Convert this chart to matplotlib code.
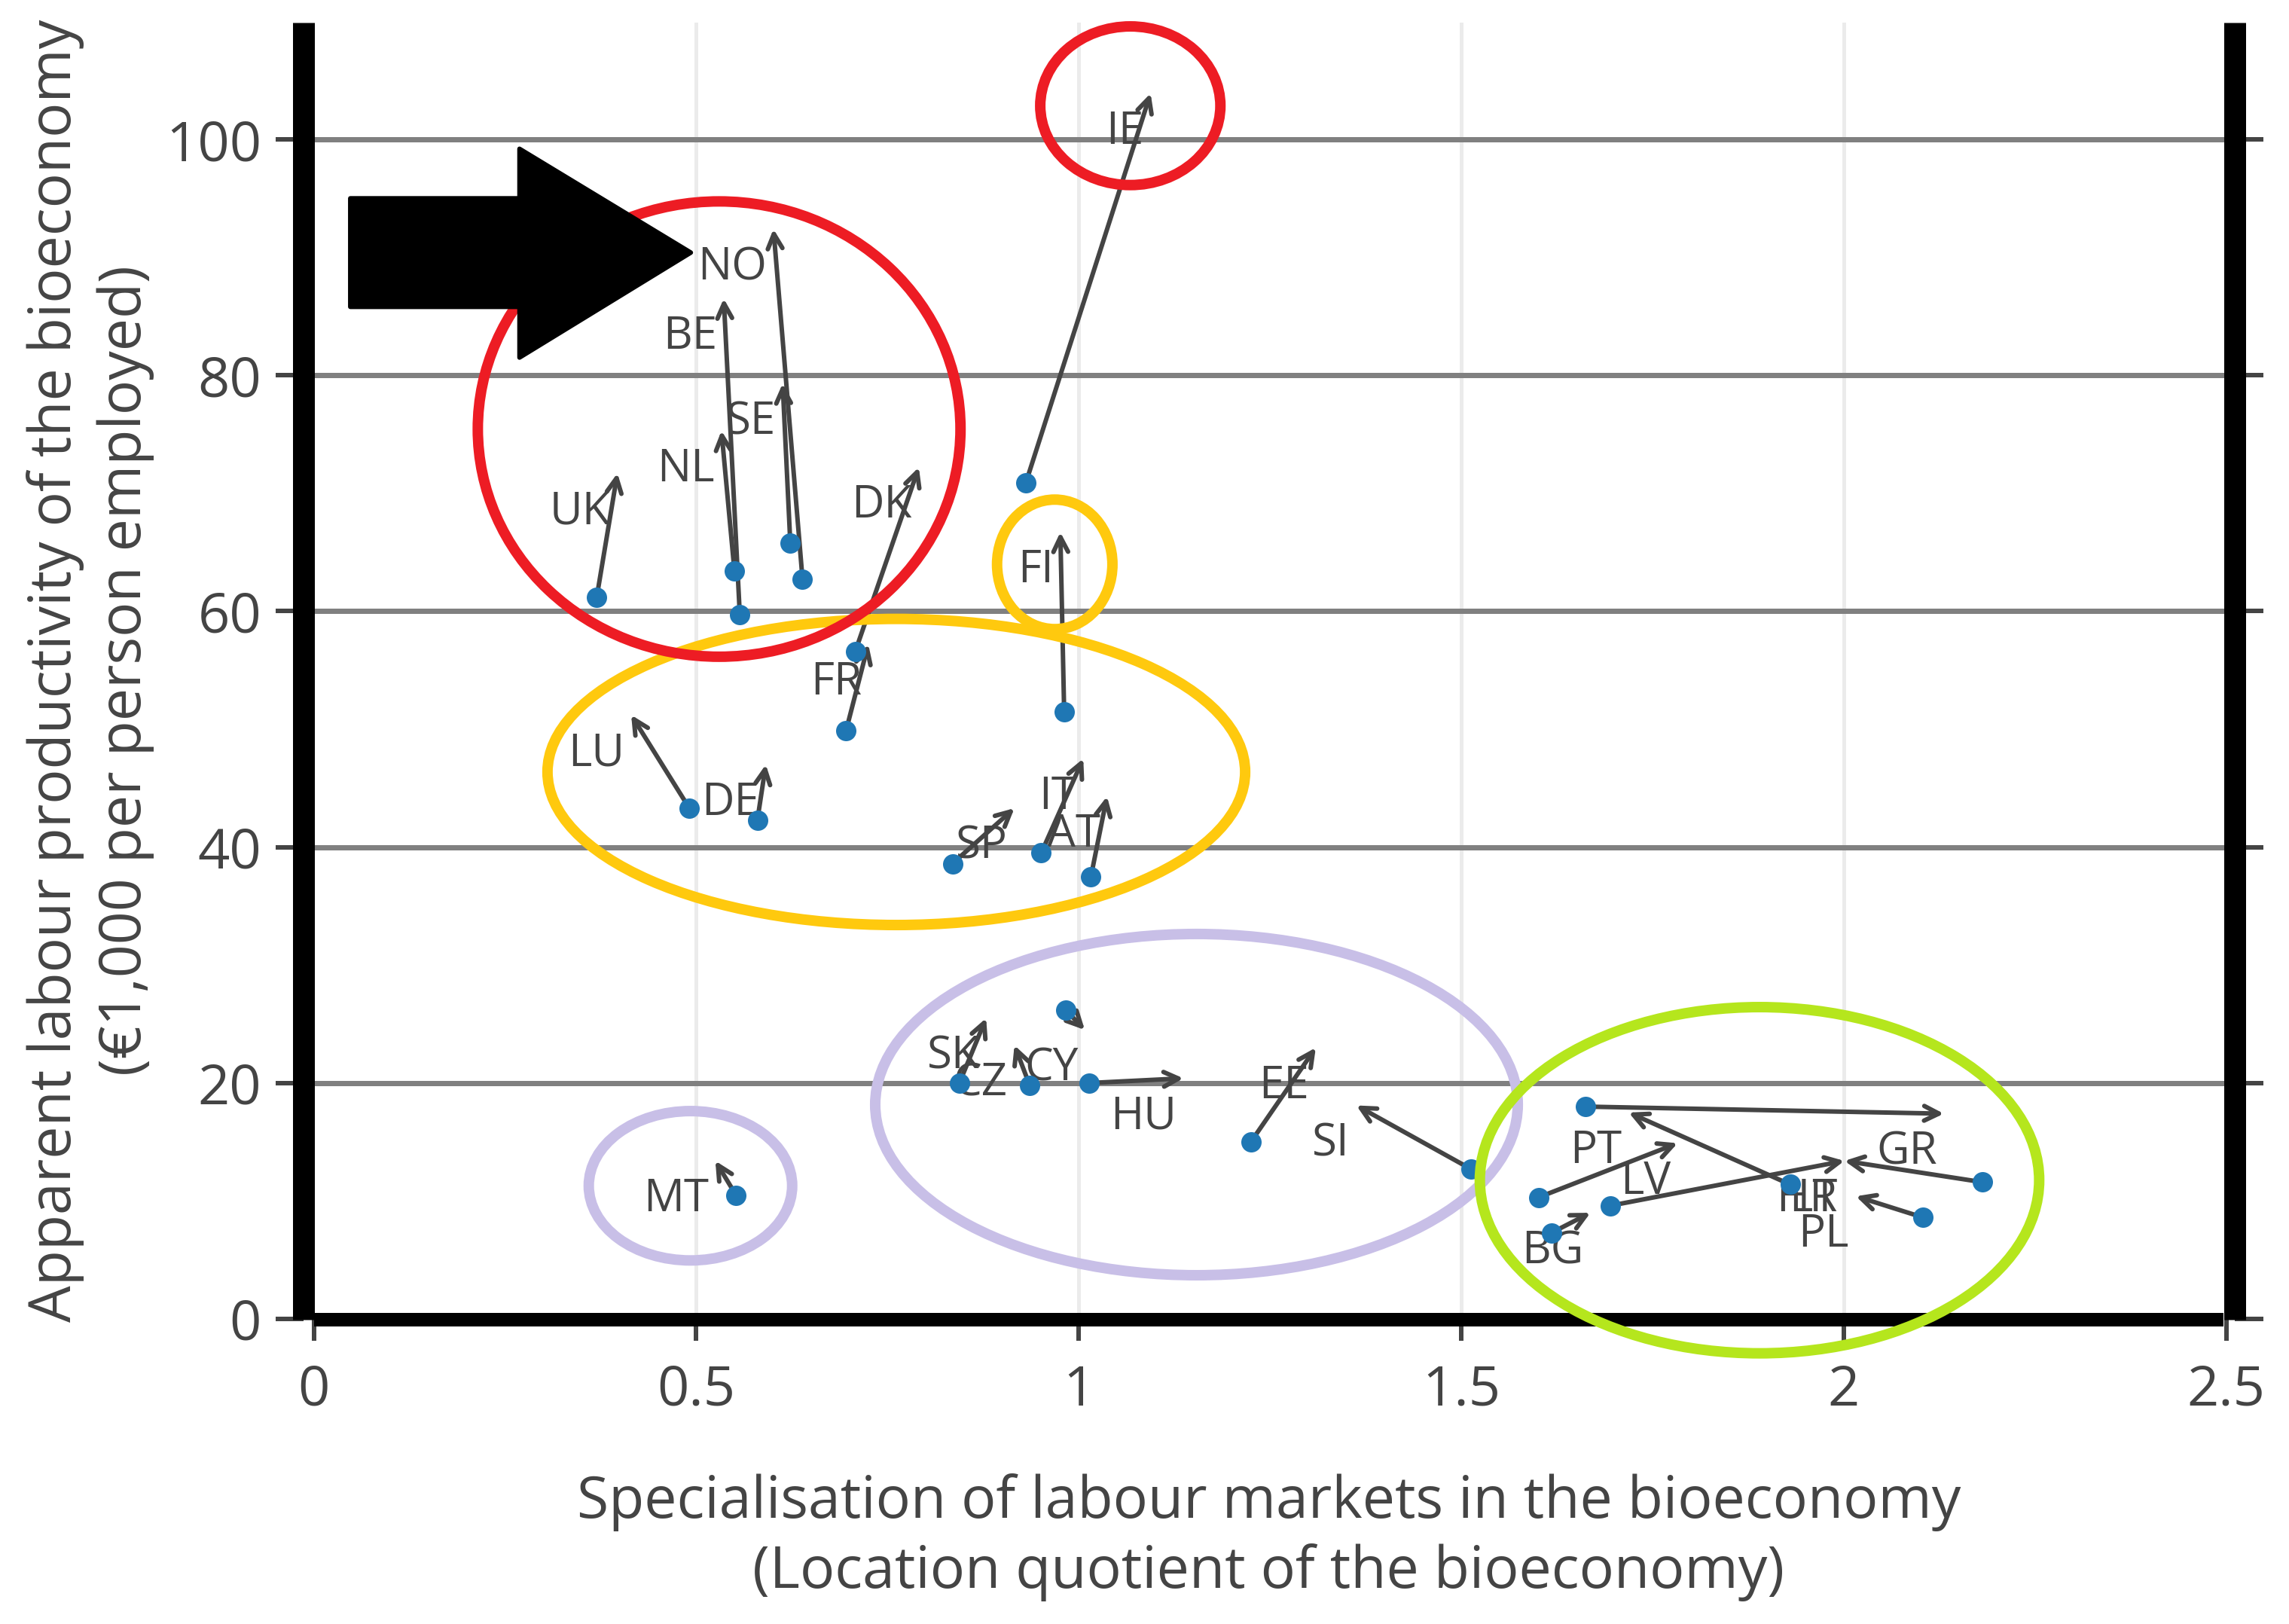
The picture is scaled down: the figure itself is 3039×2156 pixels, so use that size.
import matplotlib
matplotlib.use("Agg")
import matplotlib.pyplot as plt
from matplotlib.patches import Ellipse, Polygon, FancyArrowPatch
from matplotlib.lines import Line2D

plt.rcParams['font.family'] = ['Open Sans', 'DejaVu Sans']

# ---------------- data ----------------
countries = ["UK", "NL", "BE", "SE", "NO", "DK", "FR", "IE", "FI", "LU", "DE", "IT", "AT", "SP",
             "SK", "CZ", "CY", "HU", "EE", "SI", "GR", "PT", "LV", "BG", "LT", "HR", "PL", "MT"]
lq_start = [0.370, 0.550, 0.557, 0.623, 0.639, 0.708, 0.696, 0.931, 0.981, 0.491, 0.580, 0.951, 1.016, 0.835,
            0.844, 0.936, 0.983, 1.014, 1.225, 1.513, 1.663, 1.930, 1.601, 1.618, 1.695, 2.181, 2.104, 0.552]
prod_start = [61.2, 63.4, 59.7, 65.8, 62.7, 56.6, 49.9, 70.9, 51.5, 43.3, 42.3, 39.5, 37.5, 38.6,
              20.0, 19.8, 26.2, 20.0, 15.0, 12.7, 18.0, 11.4, 10.3, 7.3, 9.6, 11.6, 8.6, 10.5]
lq_end = [0.397, 0.533, 0.536, 0.613, 0.601, 0.791, 0.725, 1.094, 0.976, 0.415, 0.591, 1.006, 1.037, 0.916,
          0.879, 0.916, 1.008, 1.137, 1.310, 1.363, 2.131, 1.719, 1.783, 1.669, 2.001, 2.001, 2.016, 0.525]
prod_end = [71.7, 75.3, 86.5, 79.3, 92.4, 72.2, 57.2, 103.9, 66.7, 51.2, 47.0, 47.5, 44.3, 43.3,
            25.5, 23.2, 24.5, 20.4, 23.0, 18.1, 17.4, 17.5, 14.9, 9.0, 13.4, 13.4, 10.4, 13.4]

x_ticks = [0, 0.5, 1, 1.5, 2, 2.5]
x_tick_labels = ["0", "0.5", "1", "1.5", "2", "2.5"]
y_ticks = [0, 20, 40, 60, 80, 100]
y_tick_labels = ["0", "20", "40", "60", "80", "100"]

x_title = ["Specialisation of labour markets in the bioeconomy", "(Location quotient of the bioeconomy)"]
y_title = ["Apparent labour productivity of the bioeconomy", "(\u20ac1,000 per person employed)"]

# highlight ellipses (centre x, centre y, width, height, colour)
ell_cx = [1.154, 0.4925, 1.890, 0.7616, 0.9687, 0.530, 1.0675]
ell_cy = [18.17, 11.29, 11.76, 46.37, 63.97, 75.44, 102.85]
ell_w = [0.840, 0.2659, 0.7312, 0.912, 0.1508, 0.631, 0.2355]
ell_h = [28.93, 12.66, 29.35, 25.95, 10.98, 38.6, 13.45]
ell_col = ["#C8BFE7", "#C8BFE7", "#B5E61D", "#FFC90E", "#FFC90E", "#ED1C24", "#ED1C24"]

# big black block arrow (data coords)
block_x = [0.0478, 0.269, 0.269, 0.493, 0.269, 0.269, 0.0478]
block_y = [95.0, 95.0, 99.2, 90.4, 81.5, 85.8, 85.8]

# ---------------- figure ----------------
W, H, DPI = 3039, 2156, 100
PT = 72.0 / DPI  # points per pixel
fig = plt.figure(figsize=(W / DPI, H / DPI), dpi=DPI)
L, R, T, B = 402.5, 2966.5, 29.5, 1752.0
ax = fig.add_axes([L / W, 1 - B / H, (R - L) / W, (B - T) / H])
ax.set_xlim(-0.0138, 2.5108)
ax.set_ylim(-0.064, 109.93)

for s in ax.spines.values():
    s.set_visible(False)

grey_txt = "#444444"
ax.set_xticks(x_ticks)
ax.set_xticklabels(x_tick_labels)
ax.set_yticks(y_ticks)
ax.set_yticklabels(y_tick_labels)
ax.tick_params(axis='both', labelsize=74 * PT, colors=grey_txt, width=6 * PT)
ax.tick_params(axis='x', length=28 * PT, pad=30 * PT)
ax.tick_params(axis='y', length=37.5 * PT, pad=18 * PT, right=True)

for y in y_ticks[1:]:
    ax.axhline(y, color="#808080", lw=7 * PT, zorder=1)
for x in x_ticks[1:-1]:
    ax.axvline(x, color="#ebebeb", lw=5 * PT, zorder=0.9)

# thick black frame bars
bar_kw = dict(color="black", transform=ax.transAxes, clip_on=False, solid_capstyle="butt", zorder=3)
ax.add_line(Line2D([0, 0], [0, 1], lw=29 * PT, **bar_kw))
ax.add_line(Line2D([1, 1], [0, 1], lw=29 * PT, **bar_kw))
inset = 14.5 / (R - L)
ax.add_line(Line2D([inset, 1 - inset], [0, 0], lw=18 * PT, **bar_kw))

# arrows + points + labels
for c, xs, ys, xe, ye in zip(countries, lq_start, prod_start, lq_end, prod_end):
    arr = FancyArrowPatch((xs, ys), (xe, ye), arrowstyle="->,head_length=14,head_width=7",
                          mutation_scale=1, shrinkA=0, shrinkB=0, color="#444444",
                          lw=6 * PT, zorder=4, clip_on=False)
    ax.add_patch(arr)
    ax.annotate(c, xy=(xe, ye), xytext=(-9 * PT, -67 * PT), textcoords="offset points",
                ha="right", va="baseline", fontsize=60 * PT, color=grey_txt, zorder=5)
ax.plot(lq_start, prod_start, "o", color="#1f77b4", ms=27 * PT, mec="none", zorder=6, clip_on=False)

# highlight ellipses
for cx, cy, w, h, col in zip(ell_cx, ell_cy, ell_w, ell_h, ell_col):
    ax.add_patch(Ellipse((cx, cy), w, h, fill=False, edgecolor=col, lw=14 * PT,
                         zorder=7, clip_on=False))

ax.add_patch(Polygon(list(zip(block_x, block_y)), closed=True, facecolor="black",
                     edgecolor="black", lw=6 * PT, joinstyle="round", zorder=8, clip_on=False))

# axis titles
cx_fig = (L + R) / 2 / W
fig.text(cx_fig, 1 - 2015 / H, x_title[0], ha="center", va="baseline", fontsize=77 * PT, color=grey_txt)
fig.text(cx_fig, 1 - 2108 / H, x_title[1], ha="center", va="baseline", fontsize=77 * PT, color=grey_txt)
cy_fig = 1 - 890 / H
fig.text(94 / W, cy_fig, y_title[0], ha="center", va="baseline", rotation=90,
         rotation_mode="anchor", fontsize=77 * PT, color=grey_txt)
fig.text(187 / W, cy_fig, y_title[1], ha="center", va="baseline", rotation=90,
         rotation_mode="anchor", fontsize=77 * PT, color=grey_txt)

fig.savefig("out.png", dpi=DPI, facecolor="white")
